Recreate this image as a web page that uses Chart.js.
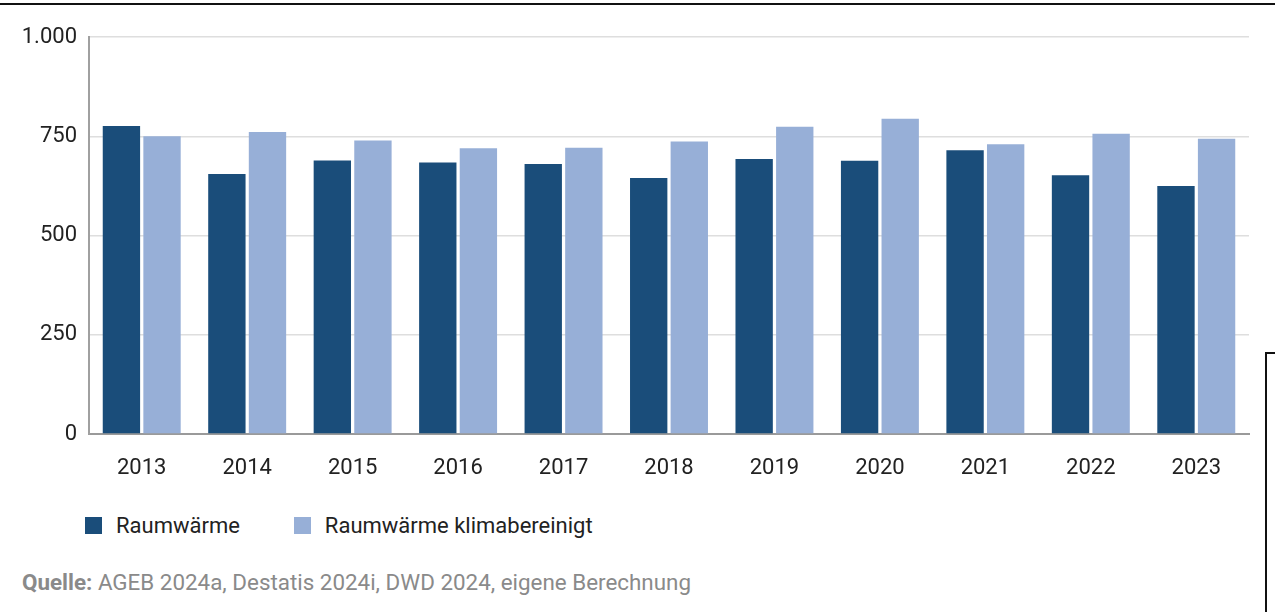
<!DOCTYPE html>
<html>
<head>
<meta charset="utf-8">
<script src="https://cdn.jsdelivr.net/npm/chart.js@4.4.1/dist/chart.umd.min.js"></script>
<style>
  html, body { margin: 0; padding: 0; background: #fff; }
  body { width: 1275px; height: 612px; position: relative; overflow: hidden; font-family: Roboto, sans-serif; }
  #topline { position: absolute; left: 0; top: 3px; width: 1275px; height: 2px; background: #111; }
  #sidebox { position: absolute; left: 1265px; top: 352px; width: 20px; height: 300px; border: 2px solid #111; box-sizing: border-box; }
  #wrap { position: absolute; left: 0; top: 0; width: 1275px; height: 500px; }
  #legend { position: absolute; left: 85px; top: 513px; display: flex; align-items: center; font-size: 22px; color: #222; }
  .item { display: flex; align-items: center; margin-right: 54px; }
  .box { width: 17px; height: 17px; margin-right: 14px; }
  #source { position: absolute; left: 22px; top: 569px; font-size: 22.4px; color: #8a8a8a; }
  #source b { font-weight: 700; }
</style>
</head>
<body>
<div id="topline"></div>
<div id="sidebox"></div>
<div id="wrap"><canvas id="chart" width="1275" height="500"></canvas></div>
<div id="legend"></div>
<div id="source"><b>Quelle:</b> AGEB 2024a, Destatis 2024i, DWD 2024, eigene Berechnung</div>
<script>
const years = ['2013', '2014', '2015', '2016', '2017', '2018', '2019', '2020', '2021', '2022', '2023'];
const raumwaerme = [776, 655, 689, 684, 680, 645, 693, 688, 715, 652, 625];
const raumwaermeKlima = [750, 761, 739, 720, 721, 737, 774, 794, 730, 756, 744];
const yTicks = [0, 250, 500, 750, 1000];

const colors = ['#1a4d7a', '#97afd7'];
const names = ['Raumwärme', 'Raumwärme klimabereinigt'];

const legend = document.getElementById('legend');
names.forEach((n, i) => {
  const el = document.createElement('div');
  el.className = 'item';
  el.innerHTML = '<div class="box" style="background:' + colors[i] + '"></div><span>' + n + '</span>';
  legend.appendChild(el);
});

new Chart(document.getElementById('chart'), {
  type: 'bar',
  data: {
    labels: years,
    datasets: [
      { label: names[0], data: raumwaerme, backgroundColor: colors[0] },
      { label: names[1], data: raumwaermeKlima, backgroundColor: colors[1] },
    ],
  },
  options: {
    responsive: false,
    animation: false,
    devicePixelRatio: 1,
    layout: { padding: { top: 37, right: 26, left: 0, bottom: 0 } },
    datasets: { bar: { categoryPercentage: 0.77, barPercentage: 0.92 } },
    plugins: { legend: { display: false }, tooltip: { enabled: false } },
    scales: {
      x: {
        grid: { display: false, drawTicks: false },
        border: { color: '#9a9a9a', width: 2 },
        ticks: { color: '#222', font: { family: 'Roboto', size: 22 }, padding: 21, autoSkip: false, maxRotation: 0 },
        afterFit: (s) => { s.height = 66; },
      },
      y: {
        min: 0,
        max: 1000,
        afterBuildTicks: (s) => { s.ticks = yTicks.map((v) => ({ value: v })); },
        grid: { color: '#dedede', lineWidth: 1.5, drawTicks: false },
        border: { color: '#a0a0a0', width: 2 },
        ticks: {
          color: '#222',
          font: { family: 'Roboto', size: 22 },
          padding: 12,
          callback: (v) => v.toLocaleString('de-DE'),
        },
        afterFit: (s) => { s.width = 89; },
      },
    },
  },
});
</script>
</body>
</html>
